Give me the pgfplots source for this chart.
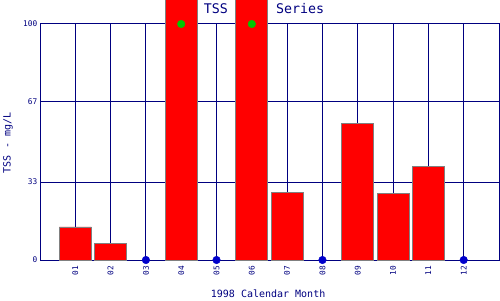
\documentclass[border=0pt]{standalone}
\usepackage{fontspec}
\setmainfont{DejaVu Sans Mono}
\usepackage{pgfplots}
\pgfplotsset{compat=1.18}
\definecolor{navy}{RGB}{0,0,128}
\definecolor{barred}{RGB}{255,0,0}
\definecolor{baredge}{RGB}{128,128,128}
\definecolor{dotblue}{RGB}{0,0,204}
\definecolor{dotgreen}{RGB}{0,200,0}
\begin{document}
\begin{tikzpicture}[x=1pt,y=1pt]
\useasboundingbox (0,0) rectangle (500,300);
\begin{axis}[
  at={(40pt,40pt)}, anchor=south west,
  scale only axis, width=459pt, height=236pt,
  xmin=0, xmax=13, ymin=0, ymax=100,
  clip=false,
  axis line style={navy, line width=1pt},
  grid=major,
  grid style={navy, line width=1pt},
  major tick length=0pt,
  xtick={1,2,3,4,5,6,7,8,9,10,11,12},
  xticklabels={01,02,03,04,05,06,07,08,09,10,11,12},
  ytick={0,33,67,100},
  yticklabels={0,33,67,100},
  /pgf/number format/assume math mode=true,
  tick label style={font=\fontsize{7.8}{9}\selectfont, text=navy},
  xticklabel style={rotate=90, anchor=east, inner sep=6pt},
  yticklabel style={anchor=east, inner sep=2.5pt},
  xlabel={1998 Calendar Month},
  xlabel style={at={(rel axis cs:0.497,-0.144)}, anchor=center, font=\fontsize{10}{12}\selectfont, text=navy, inner sep=0pt},
  ylabel={TSS - mg/L},
  ylabel style={at={(rel axis cs:-0.0697,0.496)}, anchor=center, rotate=0, font=\fontsize{10}{12}\selectfont, text=navy, inner sep=0pt},
]
\addplot[ybar, bar width=32pt, fill=barred, draw=baredge, line width=0.9pt]
  coordinates {(1,14.0) (2,7.1) (4,112) (6,112) (7,28.7) (9,57.9) (10,28.0) (11,39.8)};
\addplot[only marks, mark=*, mark size=3.8pt, color=dotblue]
  coordinates {(3,0) (5,0) (8,0) (12,0)};
\addplot[only marks, mark=*, mark size=3.8pt, color=dotgreen]
  coordinates {(4,100) (6,100)};
\node[anchor=center, inner sep=0pt, font=\fontsize{13.3}{15}\selectfont, text=navy]
  at (rel axis cs:0.488,1.066) {TSS\ \ \ \ \ \ Series};
\end{axis}
\end{tikzpicture}
\end{document}
